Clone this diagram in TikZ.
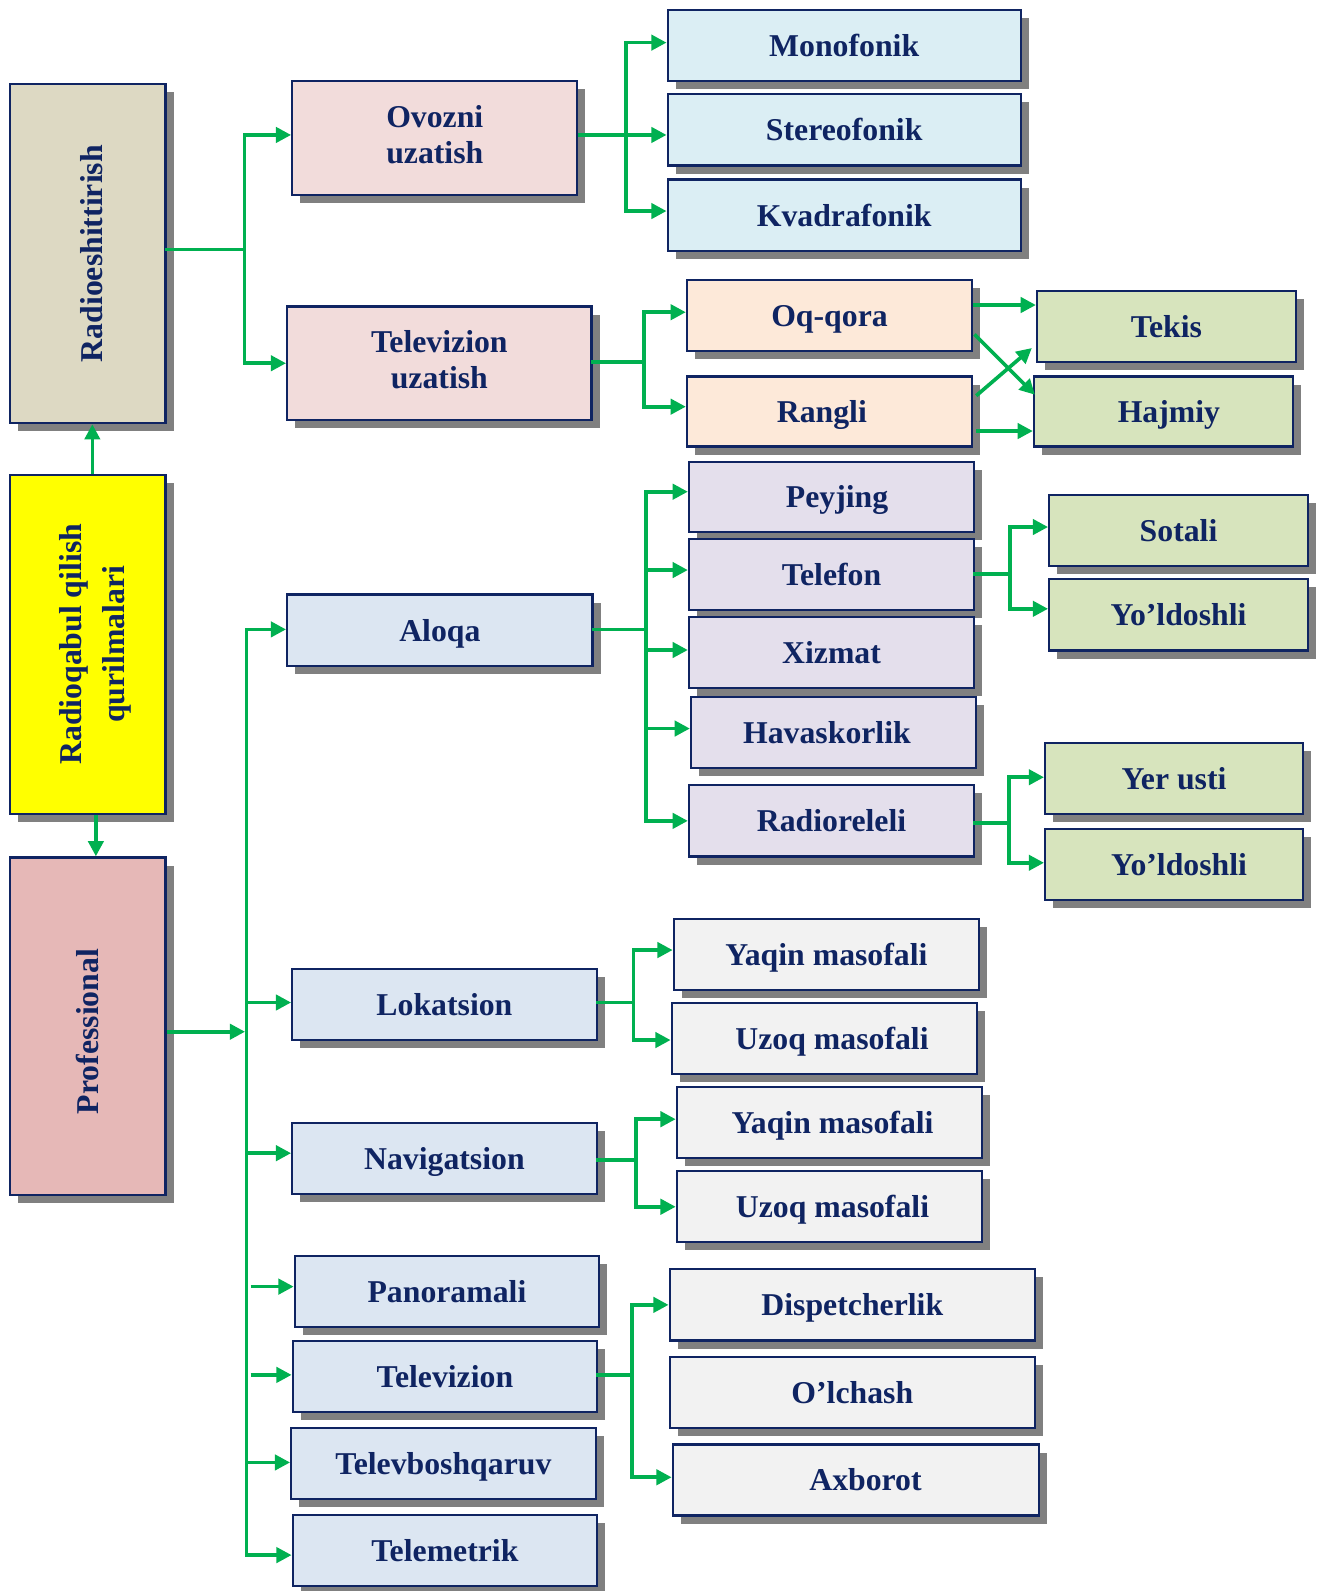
\documentclass[tikz,border=0pt]{standalone}
\usepackage{fontspec}
\setmainfont{Liberation Serif}
\usepackage{graphicx}
\usetikzlibrary{arrows.meta,shadows,calc}
\definecolor{navy}{HTML}{0F2462}
\definecolor{shgray}{HTML}{808080}
\definecolor{grn}{HTML}{00B050}
\definecolor{cBeige}{HTML}{DDD9C3}
\definecolor{cYellow}{HTML}{FFFF00}
\definecolor{cRose}{HTML}{E6B8B7}
\definecolor{cPink}{HTML}{F2DCDB}
\definecolor{cCyan}{HTML}{DBEEF4}
\definecolor{cPeach}{HTML}{FDE9D9}
\definecolor{cOlive}{HTML}{D7E4BD}
\definecolor{cLilac}{HTML}{E4DFEC}
\definecolor{cBlue}{HTML}{DCE6F2}
\definecolor{cGrey}{HTML}{F2F2F2}
\tikzset{
 box/.style={draw=navy, line width=2.2pt, text=navy,
   font=\fontsize{31.3}{36}\selectfont\bfseries, inner sep=0pt, align=center,
   drop shadow={shadow xshift=8pt, shadow yshift=-8pt, fill=shgray, opacity=1}},
 one/.style={text height=25pt, text depth=3.4pt},
 sz/.style 2 args={minimum width=#1pt, minimum height=#2pt},
 ln/.style={draw=grn, line width=3.6pt, line cap=rect},
 arr/.style={draw=grn, line width=3.6pt, -{Triangle[length=15pt,width=15pt]}},
}
\begin{document}
\begin{tikzpicture}[x=1pt,y=-1pt]
\fill[white] (0,0) rectangle (1298,1568);
\useasboundingbox (0,0) rectangle (1298,1568);

% left column
\node[box, fill=cBeige, sz={153}{334}] (radio) at (86.5,250) {\hspace*{7pt}\rotatebox{90}{Radioeshittirish}};
\node[box, fill=cYellow, sz={153}{334}] (root) at (86.5,635) {\hspace*{16pt}\rotatebox{90}{\begin{tabular}{@{}c@{}}Radioqabul qilish\\[6.7pt]qurilmalari\end{tabular}}};
\node[box, fill=cRose, sz={153}{333}] (prof) at (86.5,1011.5) {\rotatebox{90}{\hspace*{-10pt}Professional}};

% second column
\node[box, fill=cPink, sz={281}{112}] (ovozni) at (428.5,136) {\begin{tabular}{@{}c@{}}Ovozni\\uzatish\end{tabular}};
\node[box, fill=cPink, sz={300}{112}] (tvuz) at (433,358) {\begin{tabular}{@{}c@{}}Televizion\\uzatish\end{tabular}};
\node[box, one, fill=cBlue, sz={301}{70}] (aloqa) at (433.5,621) {Aloqa};
\node[box, one, fill=cBlue, sz={300}{70}] (lok) at (438,990) {Lokatsion};
\node[box, one, fill=cBlue, sz={300}{70}] (nav) at (438,1142) {Navigatsion};
\node[box, one, fill=cBlue, sz={300}{70}] (pano) at (440.5,1272.7) {Panoramali};
\node[box, one, fill=cBlue, sz={300}{70}] (telev) at (438.5,1356.4) {Televizion};
\node[box, one, fill=cBlue, sz={300}{70}] (tvbosh) at (437,1442.2) {Televboshqaruv};
\node[box, one, fill=cBlue, sz={300}{70}] (telem) at (438.5,1528) {Telemetrik};

% third column
\node[box, one, fill=cCyan, sz={348}{70}] (mono) at (832,45) {Monofonik};
\node[box, one, fill=cCyan, sz={348}{70}] (stereo) at (832,128) {Stereofonik};
\node[box, one, fill=cCyan, sz={348}{70}] (kvadra) at (832,212) {Kvadrafonik};
\node[box, one, fill=cPeach, sz={281}{70}] (oqqora) at (817.5,311) {Oq-qora};
\node[box, one, fill=cPeach, sz={281}{69}] (rangli) at (817.5,405.5) {\hspace*{-15pt}Rangli};
\node[box, one, fill=cLilac, sz={281}{69}] (peyjing) at (819.5,489.5) {\hspace*{11pt}Peyjing};
\node[box, one, fill=cLilac, sz={281}{70}] (telefon) at (819.5,566) {Telefon};
\node[box, one, fill=cLilac, sz={281}{70}] (xizmat) at (819.5,643) {Xizmat};
\node[box, one, fill=cLilac, sz={281}{70}] (havas) at (821.5,722) {\hspace*{-13pt}Havaskorlik};
\node[box, one, fill=cLilac, sz={281}{70}] (radior) at (819.5,809) {Radioreleli};
\node[box, one, fill=cGrey, sz={301}{70}] (yaqin1) at (814.5,941) {Yaqin masofali};
\node[box, one, fill=cGrey, sz={301}{70}] (uzoq1) at (812.5,1023.3) {\hspace*{15pt}Uzoq masofali};
\node[box, one, fill=cGrey, sz={301}{70}] (yaqin2) at (817.5,1106.3) {\hspace*{6pt}Yaqin masofali};
\node[box, one, fill=cGrey, sz={301}{70}] (uzoq2) at (817.5,1188.8) {\hspace*{6pt}Uzoq masofali};
\node[box, one, fill=cGrey, sz={360}{70}] (disp) at (840,1286) {Dispetcherlik};
\node[box, one, fill=cGrey, sz={360}{70}] (olch) at (840,1372.5) {O’lchash};
\node[box, one, fill=cGrey, sz={361}{70}] (axb) at (843.5,1458.5) {\hspace*{19pt}Axborot};

% fourth column
\node[box, one, fill=cOlive, sz={255}{70}] (tekis) at (1149.5,322) {Tekis};
\node[box, one, fill=cOlive, sz={255}{69}] (hajmiy) at (1146.5,405.5) {\hspace*{11pt}Hajmiy};
\node[box, one, fill=cOlive, sz={255}{70}] (sotali) at (1161.5,523) {Sotali};
\node[box, one, fill=cOlive, sz={255}{70}] (yold1) at (1161.5,606) {Yo’ldoshli};
\node[box, one, fill=cOlive, sz={254}{70}] (yer) at (1157,767) {Yer usti};
\node[box, one, fill=cOlive, sz={254}{70}] (yold2) at (1157,852) {\hspace*{10pt}Yo’ldoshli};

% root connectors
\draw[arr] ([xshift=4.5pt]root.north) -- ([xshift=4.5pt]radio.south);
\draw[arr] ([xshift=8pt]root.south) -- ([xshift=8pt]prof.north);

% radio fan
\coordinate (j1) at (241,246);
\draw[ln] (radio.east |- j1) -- (j1);
\draw[arr] (j1) |- ([yshift=3pt]ovozni.west);
\draw[arr] (j1) |- (tvuz.west);

% ovozni fan
\coordinate (j2) at (617,133);
\draw[arr] (ovozni.east |- j2) -- (stereo.west |- j2);
\draw[arr] (j2) |- ([yshift=3pt]mono.west);
\draw[arr] (j2) |- ([yshift=4pt]kvadra.west);

% televizion uzatish fan
\coordinate (j3) at (635,356.5);
\draw[ln] (tvuz.east |- j3) -- (j3);
\draw[arr] (j3) |- ([yshift=3.3pt]oqqora.west);
\draw[arr] (j3) |- ([yshift=4.7pt]rangli.west);

% cross connections
\coordinate (a1) at ([yshift=10.4pt]oqqora.east);
\draw[arr] (a1) -- (tekis.west |- a1);
\draw[arr] ([shift={(1.3pt,-18.5pt)}]oqqora.east) -- ([shift={(2pt,16.5pt)}]hajmiy.west);
\draw[arr] ([shift={(3pt,15.5pt)}]rangli.east) -- ([shift={(-4pt,-21pt)}]tekis.west);
\coordinate (a2) at ([shift={(3pt,-19.3pt)}]rangli.east);
\draw[arr] (a2) -- (hajmiy.west |- a2);

% aloqa fan
\coordinate (j4) at (636.4,620.3);
\draw[ln] (aloqa.east |- j4) -- (j4);
\draw[arr] (j4) |- ([yshift=4.9pt]peyjing.west);
\draw[arr] (j4) |- ([yshift=4.2pt]telefon.west);
\draw[arr] (j4) |- ([yshift=2.4pt]xizmat.west);
\draw[arr] (j4) |- ([yshift=4pt]havas.west);
\draw[arr] (j4) |- (radior.west);

% telefon fan
\coordinate (j5) at (995.5,566);
\draw[ln] (telefon.east |- j5) -- (j5);
\draw[arr] (j5) |- ([yshift=3.6pt]sotali.west);
\draw[arr] (j5) |- ([yshift=6pt]yold1.west);

% radioreleli fan
\coordinate (j6) at (994.5,811);
\draw[ln] (radior.east |- j6) -- (j6);
\draw[arr] (j6) |- ([yshift=1pt]yer.west);
\draw[arr] (j6) |- ([yshift=1.7pt]yold2.west);

% professional trunk
\coordinate (tr) at (241.5,1016.8);
\draw[arr] (prof.east |- tr) -- (tr);
\coordinate (ttop) at (243,620.3);
\coordinate (tbot) at (243,1532.6);
\draw[ln] (ttop) -- (tbot);
\draw[arr] (ttop) -- (aloqa.west |- ttop);
\draw[arr] (ttop) |- ([yshift=2pt]lok.west);
\draw[arr] (ttop) |- ([yshift=5.5pt]nav.west);
\coordinate (p1) at ([yshift=4.7pt]pano.west);
\draw[arr] ($(p1 -| ttop)+(4,0)$) -- (p1);
\coordinate (p2) at ([yshift=1.4pt]telev.west);
\draw[arr] ($(p2 -| ttop)+(4,0)$) -- (p2);
\draw[arr] (ttop) |- ([yshift=0.9pt]tvbosh.west);
\draw[arr] (ttop) |- (tbot -| telem.west);

% lokatsion fan
\coordinate (j7) at (624.2,988);
\draw[ln] (lok.east |- j7) -- (j7);
\draw[arr] (j7) |- ([yshift=4.7pt]yaqin1.west);
\draw[arr] (j7) |- ([yshift=-1.7pt]uzoq1.west);

% navigatsion fan
\coordinate (j8) at (626.9,1143);
\draw[ln] (nav.east |- j8) -- (j8);
\draw[arr] (j8) |- ([yshift=3.3pt]yaqin2.west);
\draw[arr] (j8) |- ([yshift=-0.5pt]uzoq2.west);

% televizion fan
\coordinate (j9) at (623,1355);
\draw[ln] (telev.east |- j9) -- (j9);
\draw[arr] (j9) |- (disp.west);
\draw[arr] (j9) |- ([yshift=2.6pt]axb.west);
\end{tikzpicture}
\end{document}
